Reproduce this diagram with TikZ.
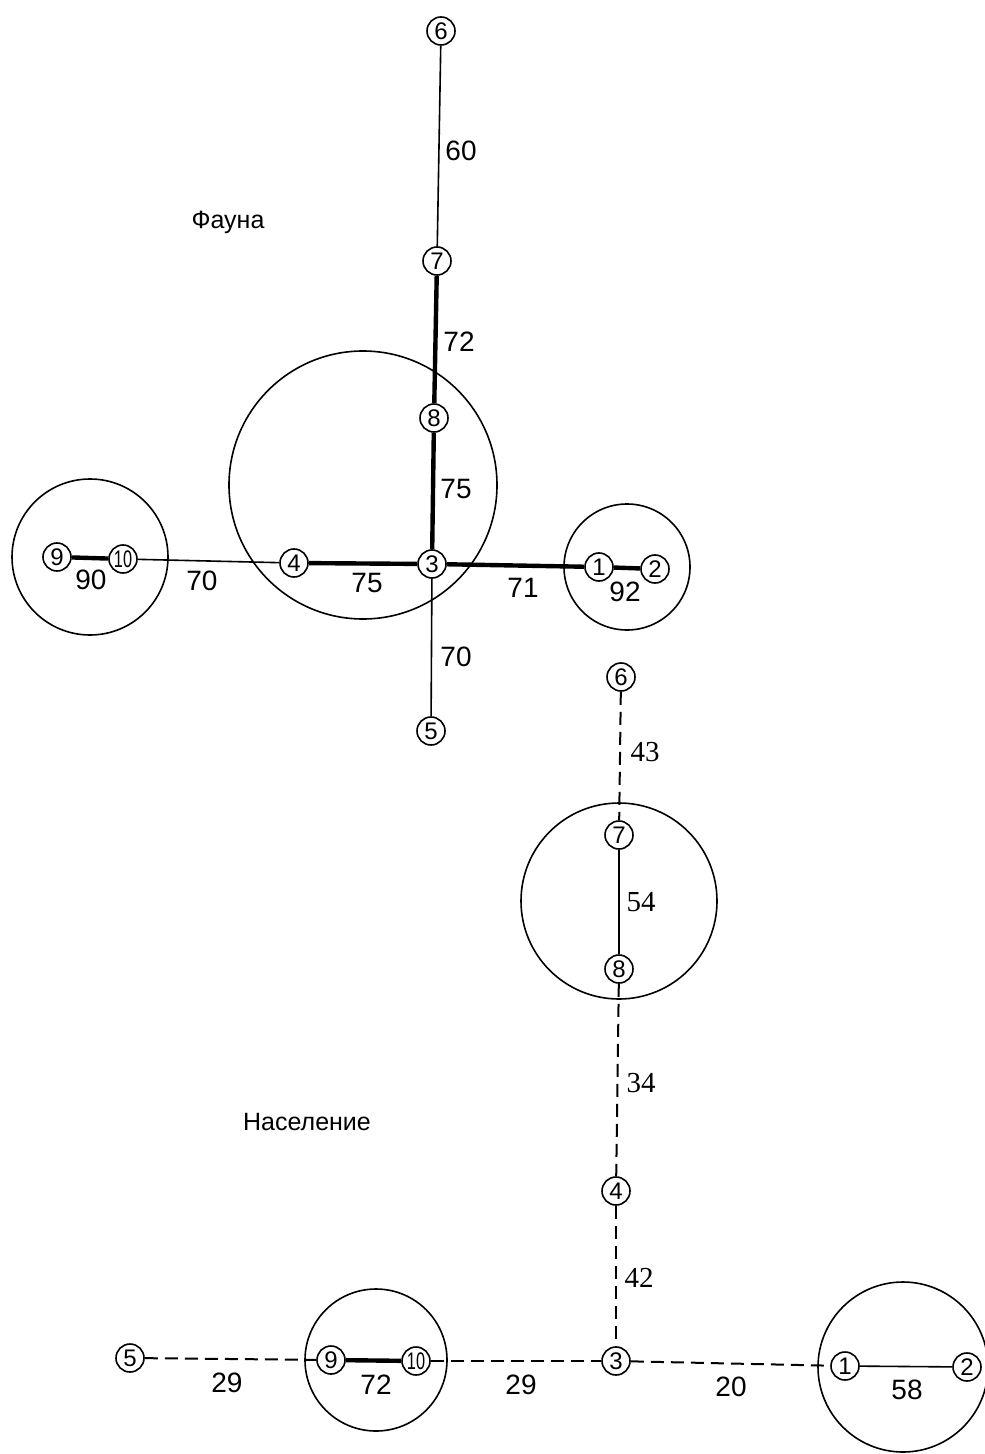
\documentclass[tikz,border=0pt]{standalone}
\usepackage{fontspec}
\setmainfont{Liberation Sans}
\newfontfamily\seriffam{Liberation Serif}
\usepackage{graphicx}
\usetikzlibrary{positioning}

\begin{document}
\begin{tikzpicture}[y=-0.5pt,x=0.5pt,
	v/.style={circle,draw,line width=0.8pt,minimum size=14pt,inner sep=0pt,font=\fontsize{12}{12}\selectfont},
	lbl/.style={font=\fontsize{14}{14}\selectfont},
	slbl/.style={font=\seriffam\fontsize{14.5}{14.5}\selectfont},
	title/.style={font=\fontsize{12.5}{12.5}\selectfont},
	weak/.style={line width=0.8pt},
	strong/.style={line width=2.2pt},
	dashline/.style={line width=1pt,dash pattern=on 6.5pt off 3.5pt},
	ring/.style={line width=0.8pt}]
	\newcommand\Ten{\scalebox{0.68}[1]{10}}
	\useasboundingbox (0,0) rectangle (984,1454);

	% Fauna
	\node[v] (f6) at (441,31) {6};
	\node[v] (f7) at (437,261) {7};
	\node[v] (f8) at (434,418) {8};
	\node[v] (f3) at (432,564) {3};
	\node[v] (f4) at (294,563) {4};
	\node[v] (f10) at (123,559) {\Ten};
	\node[v] (f9) at (57,557) {9};
	\node[v] (f1) at (599,567) {1};
	\node[v] (f2) at (655,569) {2};
	\node[v] (f5) at (431,731) {5};

	\draw[ring] (363,485) circle[radius=134];
	\draw[ring] (90,557) circle[radius=78];
	\draw[ring] (627,567) circle[radius=63];

	\draw[weak] (f6) -- (f7);
	\draw[strong] (f7) -- (f8);
	\draw[strong] (f8) -- (f3);
	\draw[strong] (f3) -- (f4);
	\draw[weak] (f4) -- (f10);
	\draw[strong] (f10) -- (f9);
	\draw[strong] (f3) -- (f1);
	\draw[strong] (f1) -- (f2);
	\draw[weak] (f3) -- (f5);

	\node[lbl] (fa) at (461,151) {60};
	\node[lbl] (fb) at (459,342) {72};
	\node[lbl] (fc) at (456,489) {75};
	\node[lbl] (fd) at (367,583) {75};
	\node[lbl] (fe) at (202,581) {70};
	\node[lbl] (ff) at (91,580) {90};
	\node[lbl] (fg) at (523,588) {71};
	\node[lbl] (fh) at (625,592) {92};
	\node[lbl] (fi) at (456,657) {70};
	\node[title] (fauna) at (228,222) {Фауна};

	% Naselenie
	\node[v] (p6) at (621,677) {6};
	\node[v] (p7) at (619,835) {7};
	\node[v] (p8) at (619,969) {8};
	\node[v] (p4) at (616,1191) {4};
	\node[v] (p3) at (616,1361) {3};
	\node[v] (p5) at (130,1358) {5};
	\node[v] (p9) at (331,1360) {9};
	\node[v] (p10) at (416,1361) {\Ten};
	\node[v] (p1) at (845,1366) {1};
	\node[v] (p2) at (967,1367) {2};

	\draw[ring] (619,901) circle[radius=98];
	\draw[ring] (376,1360) circle[radius=71];
	\draw[ring] (903,1367) circle[radius=85];

	\draw[dashline] (p6) -- (p7);
	\draw[weak] (p7) -- (p8);
	\draw[dashline] (p8) -- (p4);
	\draw[dashline] (p4) -- (p3);
	\draw[dashline] (p5) -- (p9);
	\draw[strong] (p9) -- (p10);
	\draw[dashline] (p10) -- (p3);
	\draw[dashline] (p3) -- (p1);
	\draw[weak] (p1) -- (p2);

	\node[slbl] (pa) at (645,752) {43};
	\node[slbl] (pb) at (641,902) {54};
	\node[slbl] (pc) at (641,1083) {34};
	\node[slbl] (pd) at (639,1278) {42};
	\node[lbl] (pe) at (227,1383) {29};
	\node[lbl] (pf) at (376,1385) {72};
	\node[lbl] (pg) at (521,1385) {29};
	\node[lbl] (ph) at (731,1387) {20};
	\node[lbl] (pi) at (907,1390) {58};
	\node[title] (nas) at (307,1122) {Население};
\end{tikzpicture}
\end{document}
